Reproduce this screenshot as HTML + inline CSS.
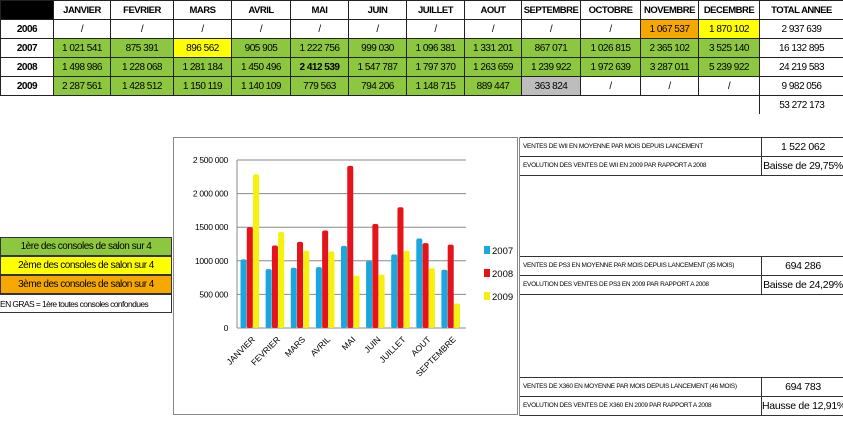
<!DOCTYPE html>
<html><head><meta charset="utf-8"><style>
body{margin:0;width:843px;height:426px;background:#fff;position:relative;overflow:hidden;font-family:"Liberation Sans",sans-serif;}
table.t{position:absolute;left:0;top:0;border-collapse:collapse;font-size:10px;table-layout:fixed;width:843px}
table.t td{border:1px solid #222;height:18px;padding:0;text-align:center;white-space:nowrap;letter-spacing:-0.5px;overflow:hidden}
.h td{font-weight:bold;font-size:9.5px}
.g{background:#8dc63f}.y{background:#ffff00}.o{background:#f7a800}.gr{background:#bdbdbd}
.lab{position:absolute;left:0;width:172px;height:19px;line-height:18px;font-size:10px;text-align:center;border:1px solid #333;box-sizing:border-box;letter-spacing:-0.5px;white-space:nowrap;overflow:hidden}
.rb{position:absolute;left:520px;width:323px;height:19px;border-top:1px solid #333;box-sizing:border-box}
.rb span.l{position:absolute;left:3px;top:5px;font-size:6.5px;letter-spacing:-0.3px;white-space:nowrap}
.rb span.r{position:absolute;left:241px;width:82px;top:0;line-height:18px;text-align:center;font-size:10.5px;border-left:1px solid #333;height:18px;white-space:nowrap;letter-spacing:-0.3px}
</style></head><body>
<table class="t">
<colgroup><col style="width:53px"><col style="width:57px"><col style="width:63px"><col style="width:58px"><col style="width:59px"><col style="width:58px"><col style="width:58px"><col style="width:58px"><col style="width:57px"><col style="width:59px"><col style="width:60px"><col style="width:58px"><col style="width:61px"><col style="width:84px"></colgroup>
<tr class="h"><td style="background:#000"></td><td>JANVIER</td><td>FEVRIER</td><td>MARS</td><td>AVRIL</td><td>MAI</td><td>JUIN</td><td>JUILLET</td><td>AOUT</td><td>SEPTEMBRE</td><td>OCTOBRE</td><td>NOVEMBRE</td><td>DECEMBRE</td><td>TOTAL ANNEE</td></tr>
<tr><td><b>2006</b></td><td>/</td><td>/</td><td>/</td><td>/</td><td>/</td><td>/</td><td>/</td><td>/</td><td>/</td><td>/</td><td class="o">1 067 537</td><td class="y">1 870 102</td><td>2 937 639</td></tr>
<tr><td><b>2007</b></td><td class="g">1 021 541</td><td class="g">875 391</td><td class="y">896 562</td><td class="g">905 905</td><td class="g">1 222 756</td><td class="g">999 030</td><td class="g">1 096 381</td><td class="g">1 331 201</td><td class="g">867 071</td><td class="g">1 026 815</td><td class="g">2 365 102</td><td class="g">3 525 140</td><td>16 132 895</td></tr>
<tr><td><b>2008</b></td><td class="g">1 498 986</td><td class="g">1 228 068</td><td class="g">1 281 184</td><td class="g">1 450 496</td><td class="g"><b>2 412 539</b></td><td class="g">1 547 787</td><td class="g">1 797 370</td><td class="g">1 263 659</td><td class="g">1 239 922</td><td class="g">1 972 639</td><td class="g">3 287 011</td><td class="g">5 239 922</td><td>24 219 583</td></tr>
<tr><td><b>2009</b></td><td class="g">2 287 561</td><td class="g">1 428 512</td><td class="g">1 150 119</td><td class="g">1 140 109</td><td class="g">779 563</td><td class="g">794 206</td><td class="g">1 148 715</td><td class="g">889 447</td><td class="gr">363 824</td><td>/</td><td>/</td><td>/</td><td>9 982 056</td></tr>
<tr><td style="border:none"></td><td style="border:none" colspan="12"></td><td style="border-top:none;border-right:none;border-bottom:none">53 272 173</td></tr>
</table>

<div class="lab g" style="top:237px">1ère des consoles de salon sur 4</div>
<div class="lab y" style="top:256px">2ème des consoles de salon sur 4</div>
<div class="lab o" style="top:275px">3ème des consoles de salon sur 4</div>
<div class="lab" style="top:294px;font-size:8.5px;letter-spacing:-0.6px;border-left:none;text-align:left">EN GRAS = 1ère toutes consoles confondues</div>

<div class="rb" style="top:137px"><span class="l">VENTES DE WII EN MOYENNE PAR  MOIS DEPUIS LANCEMENT</span><span class="r">1 522 062</span></div>
<div class="rb" style="top:156px;border-bottom:1px solid #333;height:20px"><span class="l">EVOLUTION DES VENTES DE WII EN 2009 PAR RAPPORT A 2008</span><span class="r">Baisse de 29,75%</span></div>
<div class="rb" style="top:256px"><span class="l">VENTES DE PS3 EN MOYENNE PAR  MOIS DEPUIS LANCEMENT  (35 MOIS)</span><span class="r">694 286</span></div>
<div class="rb" style="top:275px;border-bottom:1px solid #333;height:20px"><span class="l">EVOLUTION DES VENTES DE PS3 EN 2009 PAR RAPPORT A 2008</span><span class="r">Baisse de 24,29%</span></div>
<div class="rb" style="top:377px"><span class="l">VENTES DE X360 EN MOYENNE PAR  MOIS DEPUIS LANCEMENT (46 MOIS)</span><span class="r">694 783</span></div>
<div class="rb" style="top:396px;border-bottom:1px solid #333;height:20px"><span class="l">EVOLUTION DES VENTES DE X360 EN 2009 PAR RAPPORT A 2008</span><span class="r">Hausse de 12,91%</span></div>
<div style="position:absolute;left:519px;top:137px;width:1px;height:279px;background:#888"></div>

<svg id="chart" style="position:absolute;left:0;top:0" width="843" height="426"></svg>
<script>
const months=["JANVIER","FEVRIER","MARS","AVRIL","MAI","JUIN","JUILLET","AOUT","SEPTEMBRE"];
const s2007=[1021541,875391,896562,905905,1222756,999030,1096381,1331201,867071];
const s2008=[1498986,1228068,1281184,1450496,2412539,1547787,1797370,1263659,1239922];
const s2009=[2287561,1428512,1150119,1140109,779563,794206,1148715,889447,363824];
const seriesNames=["2007","2008","2009"];
const ticks=[0,500000,1000000,1500000,2000000,2500000];
const tickLabels=["0","500 000","1000 000","1500 000","2 000 000","2 500 000"];
const NS="http://www.w3.org/2000/svg";
const svg=document.getElementById('chart');
const x0=237,x1=463,y0=328,yTop=160,maxV=2500000;
const yS=v=>y0-(v/maxV)*(y0-yTop);
const band=(x1-x0)/months.length;
function mk(t,a,p){const e=document.createElementNS(NS,t);for(const k in a)e.setAttribute(k,a[k]);(p||svg).appendChild(e);return e;}
const frame=mk('rect',{x:173.5,y:137.5,width:344,height:277,fill:'#fff',stroke:'#888'});


ticks.forEach((t,i)=>{
 const y=yS(t);
 const l=mk('line',{x1:x0,x2:x1+3,y1:y,y2:y,stroke:'#888','stroke-width':1});
 
 
 const tx=mk('text',{x:x0-9,y:y+3,'text-anchor':'end','font-size':8.5,fill:'#000','letter-spacing':'-0.3'});
 tx.textContent=tickLabels[i];
 
 
});
mk('line',{x1:x0,x2:x0,y1:yTop,y2:y0,stroke:'#888'});
const colors=["#1aa7df","#e5141b","#f5f10f"];
const series=[s2007,s2008,s2009];
const bw=band*0.24;
months.forEach((m,i)=>{
 const cx=x0+band*i+band/2;
 series.forEach((s,j)=>{
  const x=cx-band*0.36+j*band*0.25;
  const y=yS(s[i]);
  const r=mk('rect',{x:x,y:y,width:bw,height:y0-y,fill:colors[j],rx:2});
  
  
 });
 const t=mk('text',{transform:`translate(${cx+6},${y0+12}) rotate(-45)`,'text-anchor':'end','font-size':8.5,fill:'#000'});
 t.textContent=m;
 
 
});
seriesNames.forEach((n,j)=>{
 const y=246+j*23;
 const r=mk('rect',{x:484,y:y,width:6,height:8,fill:colors[j]});
 
 
 const t=mk('text',{x:492,y:y+8,'font-size':9.5,fill:'#000'});
 t.textContent=n;
 
 
});
</script>
</body></html>
